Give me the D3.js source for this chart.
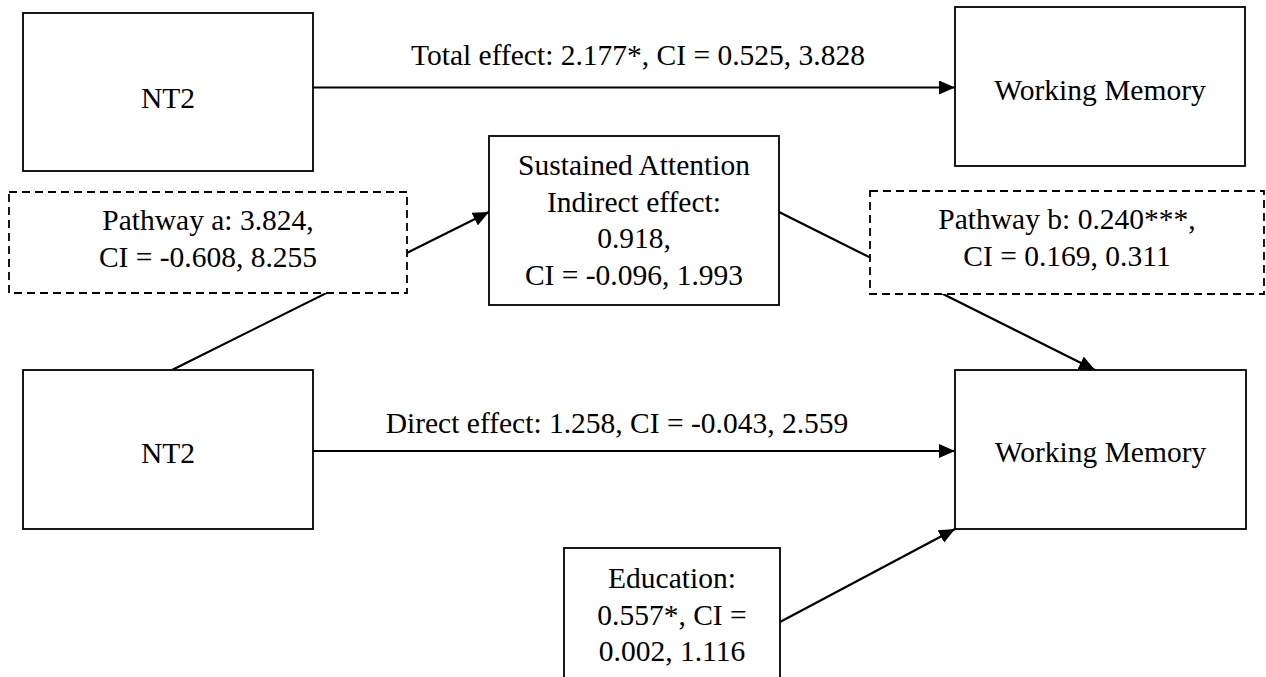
<!DOCTYPE html>
<html>
<head>
<meta charset="utf-8">
<script src="https://cdn.jsdelivr.net/npm/d3@7"></script>
<style>
  html, body { margin: 0; padding: 0; background: #fff; }
</style>
</head>
<body>
<div id="chart"></div>
<script>
// node labels (one entry per text line)
const nodeIds = ["nt2Top", "wmTop", "mediator", "pathA", "pathB", "nt2Bottom", "wmBottom", "education"];
const nodeLabels = [
  ["NT2"],
  ["Working Memory"],
  ["Sustained Attention", "Indirect effect:", "0.918,", "CI = -0.096, 1.993"],
  ["Pathway a: 3.824,", "CI = -0.608, 8.255"],
  ["Pathway b: 0.240***,", "CI = 0.169, 0.311"],
  ["NT2"],
  ["Working Memory"],
  ["Education:", "0.557*, CI =", "0.002, 1.116"]
];
const dashedNodes = ["pathA", "pathB"];

// path labels
const effectLabels = [
  "Total effect: 2.177*, CI = 0.525, 3.828",
  "Direct effect: 1.258, CI = -0.043, 2.559"
];

// geometry of the diagram
const layout = {
  nt2Top:    { x: 23,  y: 13,  w: 290, h: 158, ty: 108 },
  wmTop:     { x: 955, y: 7,   w: 290, h: 159, ty: 100 },
  mediator:  { x: 489, y: 136, w: 290, h: 169, ty: 175 },
  pathA:     { x: 9,   y: 192, w: 398, h: 101, ty: 230 },
  pathB:     { x: 870, y: 191, w: 394, h: 103, ty: 229 },
  nt2Bottom: { x: 23,  y: 370, w: 290, h: 159, ty: 463 },
  wmBottom:  { x: 955, y: 370, w: 291, h: 159, ty: 462 },
  education: { x: 564, y: 548, w: 216, h: 140, ty: 588 }
};
const lineGap = 36.5;
const fontSize = 29.5;
const fontFamily = "'Liberation Serif', 'Times New Roman', serif";

// connectors
const links = [
  { from: [313, 87.5], to: [955, 87.5], arrow: true },
  { from: [172, 370], to: [489, 212], arrow: true },
  { from: [779, 212], to: [1095, 370], arrow: true },
  { from: [313, 451], to: [955, 451], arrow: true },
  { from: [780, 622], to: [955, 529], arrow: true }
];
const labelPos = [
  { x: 638, y: 65 },
  { x: 617, y: 433 }
];

const width = 1266, height = 677;

const svg = d3.select("#chart")
  .append("svg")
  .attr("width", width)
  .attr("height", height)
  .attr("font-family", fontFamily);

svg.append("defs").append("marker")
  .attr("id", "arrow")
  .attr("viewBox", "0 0 16 14")
  .attr("refX", 16)
  .attr("refY", 7)
  .attr("markerWidth", 16)
  .attr("markerHeight", 14)
  .attr("markerUnits", "userSpaceOnUse")
  .attr("orient", "auto")
  .append("path")
  .attr("d", "M0,0 L16,7 L0,14 Z")
  .attr("fill", "#000");

const line = d3.line();

// links first so label boxes sit on top
svg.append("g")
  .selectAll("path")
  .data(links)
  .join("path")
  .attr("d", d => line([d.from, d.to]))
  .attr("fill", "none")
  .attr("stroke", "#000")
  .attr("stroke-width", 2.2)
  .attr("marker-end", d => d.arrow ? "url(#arrow)" : null);

const nodes = nodeIds.map((id, i) => ({ id, lines: nodeLabels[i], ...layout[id] }));

const g = svg.append("g")
  .selectAll("g")
  .data(nodes)
  .join("g");

g.append("rect")
  .attr("x", d => d.x)
  .attr("y", d => d.y)
  .attr("width", d => d.w)
  .attr("height", d => d.h)
  .attr("fill", "#fff")
  .attr("stroke", "#000")
  .attr("stroke-width", 1.8)
  .attr("stroke-dasharray", d => dashedNodes.includes(d.id) ? "8,5" : null);

g.each(function(d) {
  d3.select(this).selectAll("text")
    .data(d.lines)
    .join("text")
    .attr("x", d.x + d.w / 2)
    .attr("y", (t, i) => d.ty + i * lineGap)
    .attr("text-anchor", "middle")
    .attr("font-size", fontSize)
    .attr("fill", "#000")
    .text(t => t);
});

svg.append("g")
  .selectAll("text")
  .data(effectLabels)
  .join("text")
  .attr("x", (d, i) => labelPos[i].x)
  .attr("y", (d, i) => labelPos[i].y)
  .attr("text-anchor", "middle")
  .attr("font-size", fontSize)
  .attr("fill", "#000")
  .text(d => d);
</script>
</body>
</html>
